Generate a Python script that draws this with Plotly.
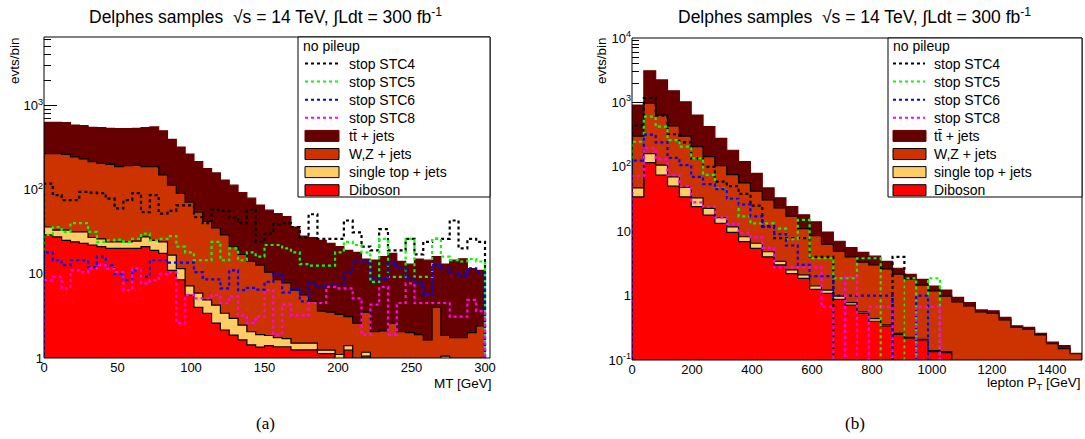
import numpy as np
import plotly.graph_objects as go

FIG_W, FIG_H = 1085, 439
FONT = "Liberation Sans, Arial, Helvetica, sans-serif"

# ---------------- panel (a): MT, 50 bins of 6 GeV ----------------
mt_bin_width = 6.0
mt_ttbar = [362, 362, 363, 340, 343, 335, 340, 335, 342, 338,
            340, 357, 367, 350, 282, 230, 194, 161, 136, 123,
            101, 92, 75, 65, 53, 46.5, 43.5, 40, 29.6, 22.4,
            22.3, 21.4, 19.5, 17.7, 15.9, 15.4, 11.5, 12.5, 13.9, 14.9,
            12, 11, 13.1, 12.9, 12, 11.2, 12.8, 13.3, 9.5, 8.6]
mt_wz = [232, 235, 229, 213, 200, 188, 179, 176, 164, 168,
         170, 160, 163, 126, 96, 78.5, 63.8, 48.1, 37.1, 30.8,
         25.6, 18, 14.5, 12, 10.8, 8.65, 6.75, 6.1, 4.9, 4.1,
         3.2, 2.36, 2.26, 2.2, 1.7, 1.7, 2.33, 1.25, 1.4, 1.9,
         1.35, 1.4, 1.3, 1.04, 3.4, 0.8, 1.25, 1.25, 1.5, 1.9]
mt_single_top = [7, 5.5, 8, 7.5, 8.5, 5, 5, 4, 4, 4,
                 4.5, 6.5, 6, 6.5, 5.7, 3, 1.6, 1.9, 1.5, 1.65,
                 1.25, 1.09, 0.82, 0.62, 0.55, 0.45, 0.39, 0.34, 0.25, 0.25,
                 0.25, 0.11, 0.11, 0.6, 0.16, 0.4, 0.12, 0.4, 0.3, 0.3,
                 0.3, 0.2, 0.2, 0.2, 0.2, 0.65, 0.1, 0.1, 0.1, 0.1]
mt_diboson = [29, 27.5, 25, 24, 23, 22, 21, 20, 20, 20,
              20, 21, 19, 17.5, 11, 8.5, 5.6, 4.0, 3.4, 2.6,
              2.15, 1.87, 1.64, 1.43, 1.35, 1.4, 1.36, 1.36, 1.25, 1.25,
              1.25, 1.13, 1.13, 0.5, 1.24, 0.5, 1.05, 0.4, 0.4, 0.4,
              0.4, 0.4, 0.4, 0.4, 0.4, 0.4, 0.4, 0.4, 0.4, 0.4]
mt_stc4 = [118, 86, 75, 75, 94, 92, 91, 78, 60, 75,
           91, 54, 86, 52, 56, 65, 65, 47, 40, 58,
           56, 47, 40, 58, 24, 30, 39, 40, 36, 27,
           51, 26, 26, 26, 43, 31, 21, 19, 34, 19,
           19, 26, 17, 24, 26, 26, 43, 20, 26, 24]
mt_stc5 = [29, 36, 31.5, 40, 40, 31.5, 24, 25, 25.5, 24,
           26, 30, 25, 26, 28, 21, 18, 14.5, 14.5, 24,
           14.5, 20, 14.5, 18, 16, 22, 22, 20, 18, 13,
           12.5, 12.5, 12.5, 18, 24, 22, 18, 8, 26, 9.2,
           9.2, 26, 9.2, 9.2, 26, 16, 14.5, 14, 15, 14]
mt_stc6 = [18, 14.5, 12.7, 14.5, 14.5, 12, 16, 12.7, 10, 8.4,
           11, 9.2, 14.5, 14.5, 13.6, 13.6, 13.6, 10.5, 8.6, 8.6,
           6.7, 11, 6.4, 6.8, 6.5, 8, 10, 6, 6.7, 4.7,
           7.7, 7, 7.5, 7.5, 10.5, 14.5, 14, 8.8, 8.6, 13.3,
           11.6, 8.8, 7.7, 5.6, 12.7, 11.6, 10.5, 9.6, 11.6, 10.5]
mt_stc8 = [8.4, 9.2, 6.7, 11, 10.5, 11.6, 12.7, 11.4, 10.5, 6.4,
           11.6, 7.7, 8.4, 10, 10.5, 2.6, 5.6, 5.1, 5.1, 5.6,
           4.5, 5.4, 3.2, 2.6, 3.1, 6.4, 1.9, 4.3, 3.2, 3.2,
           4.5, 4.5, 7, 6.7, 6.7, 5.1, 1.9, 4.3, 7, 1.9,
           4.5, 7.7, 4.5, 4.5, 4.5, 4.5, 3.1, 3.1, 4.9, 3.6]
mt_xticks = [0, 50, 100, 150, 200, 250, 300]

# ---------------- panel (b): lepton PT, 38 bins over 0-1500 GeV ----------------
pt_nbins = 38
pt_max = 1500.0
pt_ttbar = [610, 2130, 1595, 1080, 720, 430, 276, 173, 105, 64,
            37, 16.5, 10, 6.8, 7, 5.5, 3.4, 2.1, 1.6, 1.4,
            1.1, 0.8, 0.51, 0.34, 0.34, 0.23, 0.24, 0.14, 0.09, 0.04,
            0.05, 0.04, 0.02, 0.02, 0.015, 0.01, 0.017, 0.002]
pt_wz = [253, 810, 529, 360, 252, 172, 121, 88, 64, 48,
         35.5, 25.7, 19.6, 14.7, 8.9, 7.1, 5.1, 3.9, 3.2, 2.74,
         2.56, 2.25, 1.89, 1.575, 1.24, 1.04, 0.845, 0.8, 0.69, 0.56,
         0.53, 0.42, 0.32, 0.30, 0.245, 0.18, 0.15, 0.125]
pt_single_top = [13, 44, 32, 20, 14, 9, 4.8, 3.0, 2.1, 1.3,
                 1.1, 0.8, 0.4, 0.3, 0.25, 0.16, 0.14, 0.105, 0.065, 0.03,
                 0.04, 0.013, 0.01, 0.007, 0.005, 0.005, 0.005, 0, 0, 0,
                 0, 0, 0, 0, 0, 0, 0, 0]
pt_diboson = [34, 116, 74, 50, 34, 24, 17.8, 13.2, 9.6, 6.9,
              5.4, 4.0, 3.0, 2.2, 1.85, 1.25, 1.08, 0.875, 0.715, 0.53,
              0.40, 0.337, 0.25, 0.218, 0.205, 0.135, 0.13, 0, 0, 0,
              0, 0, 0, 0, 0, 0, 0, 0]
pt_stc4 = [440, 1170, 620, 320, 240, 135, 100, 59, 50, 38,
           25, 12, 7.8, 7.8, 7.8, 4, 4, 0, 0, 0,
           0, 0, 4, 0, 0, 0, 0, 0, 0, 0,
           0, 0, 0, 0, 0, 0, 0, 0]
pt_stc5 = [245, 600, 420, 260, 205, 135, 75, 46, 32, 17,
           13.2, 13.2, 11, 7.5, 15, 3.8, 3.8, 1.86, 1.86, 3.8,
           3.8, 0, 0, 1.86, 0, 1.86, 0, 0, 0, 0,
           0, 0, 0, 0, 0, 0, 0, 0]
pt_stc6 = [125, 315, 240, 138, 106, 70, 54, 45, 32, 26,
           17, 11.7, 9, 6, 3, 2.0, 2.0, 1.0, 1.0, 1.0,
           1.0, 1.0, 0, 0, 1.0, 0, 0, 0, 0, 0,
           0, 0, 0, 0, 0, 0, 0, 0]
pt_stc8 = [72, 194, 130, 74, 50, 28, 24, 16.4, 13, 9.3,
           8, 5.5, 2.75, 2.75, 2.75, 2.75, 0.67, 0, 1.96, 0,
           0.67, 0.67, 0, 0, 0.67, 0.67, 0, 0, 0, 0,
           0, 0, 0, 0, 0, 0, 0, 0]
pt_xticks = [0, 200, 400, 600, 800, 1000, 1200, 1400]

# ---------------- styles ----------------
C_TTBAR, C_WZ, C_ST, C_DIB = "#660000", "#cc3300", "#ffcc66", "#ff0000"
SIG_COLORS = ["#000000", "#00ff00", "#0000ff", "#ff00ff"]
SIG_NAMES = ["stop STC4", "stop STC5", "stop STC6", "stop STC8"]
BKG = [("Diboson", C_DIB, "black"), ("single top + jets", C_ST, "black"),
       ("W,Z + jets", C_WZ, "black"), ("tt\u0304 + jets", C_TTBAR, C_TTBAR)]


def px(x):
    return x / FIG_W


def py(y):
    return 1 - y / FIG_H


def steps(edges, vals, floor):
    v = [max(float(a), floor) for a in vals]
    x = [edges[0]] + list(edges) + [edges[-1]]
    y = [floor] + v + [v[-1], floor]
    return x, y


fig = go.Figure()


def add_panel(xa, ya, edges, bkgs, sigs, floor):
    cum = np.zeros(len(edges) - 1)
    x0, y0 = steps(edges, cum, floor)
    fig.add_trace(go.Scatter(x=x0, y=y0, mode="lines", line=dict(width=0, shape="hv"),
                             showlegend=False, hoverinfo="skip", xaxis=xa, yaxis=ya))
    for (name, fc, lc), vals in zip(BKG, bkgs):
        cum = cum + np.array(vals, dtype=float)
        x, y = steps(edges, cum, floor)
        fig.add_trace(go.Scatter(x=x, y=y, mode="lines", name=name, fill="tonexty",
                                 fillcolor=fc, line=dict(color=lc, width=1.2, shape="hv"),
                                 showlegend=False, xaxis=xa, yaxis=ya))
    for name, col, vals in zip(SIG_NAMES, SIG_COLORS, sigs):
        x, y = steps(edges, vals, floor)
        fig.add_trace(go.Scatter(x=x, y=y, mode="lines", name=name,
                                 line=dict(color=col, width=2.2, dash="dot", shape="hv"),
                                 showlegend=False, xaxis=xa, yaxis=ya))


mt_edges = np.arange(len(mt_ttbar) + 1) * mt_bin_width
pt_edges = np.linspace(0, pt_max, pt_nbins + 1)

add_panel("x", "y", mt_edges, [mt_diboson, mt_single_top, mt_wz, mt_ttbar],
          [mt_stc4, mt_stc5, mt_stc6, mt_stc8], 1e-2)
add_panel("x2", "y2", pt_edges, [pt_diboson, pt_single_top, pt_wz, pt_ttbar],
          [pt_stc4, pt_stc5, pt_stc6, pt_stc8], 1e-3)


def log_minor(lo, hi):
    return [k * 10.0 ** d for d in range(lo, hi) for k in range(2, 10)]


tickfont = dict(family=FONT, size=13, color="black")
common_x = dict(showgrid=False, zeroline=False, showline=False, ticks="inside",
                ticklen=9, tickcolor="black", tickfont=tickfont, layer="below traces",
                automargin=False)
common_y = dict(type="log", showgrid=False, zeroline=False, showline=False, ticks="inside",
                ticklen=13, tickcolor="black", tickfont=tickfont, layer="below traces",
                automargin=False)

fig.update_layout(
    width=FIG_W, height=FIG_H, autosize=False,
    margin=dict(l=0, r=0, t=0, b=0, pad=0),
    paper_bgcolor="white", plot_bgcolor="white",
    showlegend=False,
    xaxis=dict(domain=[px(44), px(490)], range=[0, 303.4], anchor="y",
               tickmode="array", tickvals=mt_xticks, ticktext=[str(t) for t in mt_xticks],
               minor=dict(ticks="inside", ticklen=5, tickcolor="black", dtick=10, tick0=0),
               **common_x),
    yaxis=dict(domain=[py(358), py(37)], range=[0, np.log10(6500)], anchor="x",
               tickmode="array", tickvals=[1, 10, 100, 1000],
               ticktext=["1", "10", "10<sup>2</sup>", "10<sup>3</sup>"],
               minor=dict(ticks="inside", ticklen=7, tickcolor="black",
                          tickmode="array", tickvals=log_minor(0, 4)),
               **common_y),
    xaxis2=dict(domain=[px(632), px(1082)], range=[0, pt_max], anchor="y2",
                tickmode="array", tickvals=pt_xticks, ticktext=[str(t) for t in pt_xticks],
                minor=dict(ticks="inside", ticklen=5, tickcolor="black", dtick=40, tick0=0),
                **common_x),
    yaxis2=dict(domain=[py(360), py(38)], range=[-1, 4], anchor="x2",
                tickmode="array", tickvals=[0.1, 1, 10, 100, 1000, 10000],
                ticktext=["10<sup>-1</sup>", "1", "10", "10<sup>2</sup>", "10<sup>3</sup>", "10<sup>4</sup>"],
                minor=dict(ticks="inside", ticklen=7, tickcolor="black",
                           tickmode="array", tickvals=log_minor(-1, 4)),
                **common_y),
)

shapes = []
annots = []

# frames
for xr, yr in (("x", "y"), ("x2", "y2")):
    shapes.append(dict(type="rect", xref=xr + " domain", yref=yr + " domain",
                       x0=0, x1=1, y0=0, y1=1, line=dict(color="black", width=1),
                       fillcolor="rgba(0,0,0,0)", layer="above"))

title_txt = "Delphes samples  \u221as = 14 TeV, \u222bLdt = 300 fb<sup>-1</sup>"
for cx in (265, 854):
    annots.append(dict(text=title_txt, x=px(cx), y=py(16), xref="paper", yref="paper",
                       xanchor="center", yanchor="middle", showarrow=False,
                       font=dict(family=FONT, size=17.5, color="black")))

for cx, lab in ((265, "(a)"), (855, "(b)")):
    annots.append(dict(text=lab, x=px(cx), y=py(423), xref="paper", yref="paper",
                       xanchor="center", yanchor="middle", showarrow=False,
                       font=dict(family="Liberation Serif, DejaVu Serif, serif", size=17, color="black")))

for cx in (15, 602):
    annots.append(dict(text="evts/bin", x=px(cx), y=py(61), xref="paper", yref="paper",
                       xanchor="center", yanchor="middle", textangle=-90, showarrow=False,
                       font=dict(family=FONT, size=13.5, color="black")))

annots.append(dict(text="MT [GeV]", x=px(494), y=py(383), xref="paper", yref="paper",
                   xanchor="right", yanchor="middle", showarrow=False,
                   font=dict(family=FONT, size=13.5, color="black")))
annots.append(dict(text="lepton P<sub>T</sub> [GeV]", x=px(1083), y=py(383), xref="paper", yref="paper",
                   xanchor="right", yanchor="middle", showarrow=False,
                   font=dict(family=FONT, size=13.5, color="black")))

# legends (boxes drawn in pixel layout positions)
legend_rows = [(n, "line", c) for n, c in zip(SIG_NAMES, SIG_COLORS)] + \
              [(n, "box", (fc, lc)) for n, fc, lc in reversed(BKG)]


def add_legend(bx0, bx1, by0, by1, hx, sx0, sx1, tx):
    shapes.append(dict(type="rect", xref="paper", yref="paper",
                       x0=px(bx0), x1=px(bx1), y0=py(by1), y1=py(by0),
                       line=dict(color="black", width=1), fillcolor="white", layer="above"))
    annots.append(dict(text="no pileup", x=px(hx), y=py(46), xref="paper", yref="paper",
                       xanchor="left", yanchor="middle", showarrow=False,
                       font=dict(family=FONT, size=14, color="black")))
    for i, (name, kind, col) in enumerate(legend_rows):
        yc = 63.5 + 18.1 * i
        if kind == "line":
            shapes.append(dict(type="line", xref="paper", yref="paper",
                               x0=px(sx0), x1=px(sx1), y0=py(yc), y1=py(yc),
                               line=dict(color=col, width=2, dash="dot"), layer="above"))
        else:
            fc, lc = col
            shapes.append(dict(type="rect", xref="paper", yref="paper",
                               x0=px(sx0), x1=px(sx1 + 1), y0=py(yc + 5.5), y1=py(yc - 5.5),
                               line=dict(color=lc, width=1), fillcolor=fc, layer="above"))
        annots.append(dict(text=name, x=px(tx), y=py(yc), xref="paper", yref="paper",
                           xanchor="left", yanchor="middle", showarrow=False,
                           font=dict(family=FONT, size=14, color="black")))


add_legend(298, 490, 37, 197, 301, 305, 338, 347)
add_legend(888, 1082, 38, 197, 891, 893, 925, 932)

fig.update_layout(shapes=shapes, annotations=annots)
fig.write_html("out.html", config={"displayModeBar": False},
               post_script="document.body.style.margin='0';document.body.style.padding='0';")
